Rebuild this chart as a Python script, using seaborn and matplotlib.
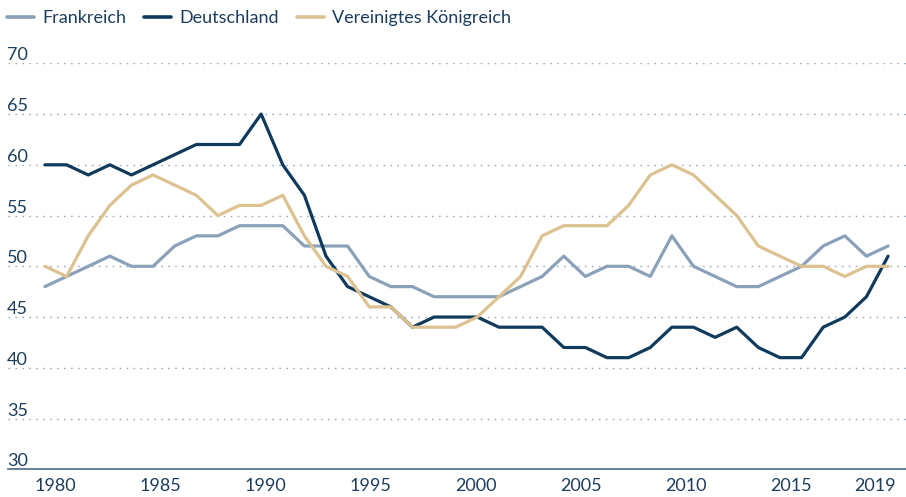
import matplotlib
matplotlib.use("Agg")
import matplotlib.pyplot as plt
import matplotlib.transforms as mtransforms
import seaborn as sns
import pandas as pd

years = list(range(1980, 2020))
frankreich = [48, 49, 50, 51, 50, 50, 52, 53, 53, 54,
              54, 54, 52, 52, 52, 49, 48, 48, 47, 47,
              47, 47, 48, 49, 51, 49, 50, 50, 49, 53,
              50, 49, 48, 48, 49, 50, 52, 53, 51, 52]
deutschland = [60, 60, 59, 60, 59, 60, 61, 62, 62, 62,
               65, 60, 57, 51, 48, 47, 46, 44, 45, 45,
               45, 44, 44, 44, 42, 42, 41, 41, 42, 44,
               44, 43, 44, 42, 41, 41, 44, 45, 47, 51]
uk = [50, 49, 53, 56, 58, 59, 58, 57, 55, 56,
      56, 57, 53, 50, 49, 46, 46, 44, 44, 44,
      45, 47, 49, 53, 54, 54, 54, 56, 59, 60,
      59, 57, 55, 52, 51, 50, 50, 49, 50, 50]
series_names = ["Frankreich", "Deutschland", "Vereinigtes Königreich"]
y_ticks = [30, 35, 40, 45, 50, 55, 60, 65, 70]
x_ticks = [1980, 1985, 1990, 1995, 2000, 2005, 2010, 2015, 2019]

colors = {"Frankreich": "#8aa1b9", "Deutschland": "#0f3a5c",
          "Vereinigtes Königreich": "#dcc191"}
text_color = "#1d3d5e"

df = pd.DataFrame({
    "Jahr": years * 3,
    "Wert": frankreich + deutschland + uk,
    "Land": [series_names[0]] * len(years) + [series_names[1]] * len(years)
            + [series_names[2]] * len(years),
})

sns.set_theme(style="white")
plt.rcParams["font.family"] = ["Lato", "DejaVu Sans"]

fig = plt.figure(figsize=(9.06, 4.97), dpi=100)
ax = fig.add_axes([8 / 906, 1 - 469.3 / 497, 1 - 8 / 906, (469.3 - 63.3) / 497])

sns.lineplot(data=df, x="Jahr", y="Wert", hue="Land", hue_order=series_names,
             palette=colors, linewidth=2.3, ax=ax)

ax.set_xlim(1978.29, 2019.83)
ax.set_ylim(30, 70)
# the source spaces its year labels a little tighter than the data points
tick_pos = [1980.46 + (yr - 1980) * 0.973 for yr in x_ticks]
ax.set_xticks(tick_pos)
ax.set_xticklabels([str(yr) for yr in x_ticks])
ax.set_yticks(y_ticks)
ax.set_xlabel("")
ax.set_ylabel("")

ax.grid(axis="y", color="#9aabbd", linewidth=1.0, linestyle=(0, (1.2, 3.8)))
ax.grid(axis="x", visible=False)
for side in ["top", "right", "left"]:
    ax.spines[side].set_visible(False)
ax.spines["bottom"].set_color("#4d6a86")
ax.spines["bottom"].set_linewidth(1.2)

ax.tick_params(axis="both", length=0, labelsize=13, labelcolor=text_color)
ax.tick_params(axis="x", pad=6)
ax.tick_params(axis="y", pad=0)
offset = mtransforms.ScaledTranslation(-1 / 100, 3 / 100, fig.dpi_scale_trans)
for lab in ax.get_yticklabels():
    lab.set_horizontalalignment("left")
    lab.set_verticalalignment("baseline")
    lab.set_transform(lab.get_transform() + offset)

sns.move_legend(ax, "center left", bbox_to_anchor=(7 / 906, 1 - 18 / 497),
                bbox_transform=fig.transFigure, ncol=3, frameon=False, title=None,
                fontsize=13, handlelength=1.5, handletextpad=0.45,
                columnspacing=1.0, borderpad=0, borderaxespad=0)
for t in ax.get_legend().get_texts():
    t.set_color(text_color)
for h in ax.get_legend().get_lines():
    h.set_linewidth(2.6)

fig.savefig("out.png", dpi=100)
